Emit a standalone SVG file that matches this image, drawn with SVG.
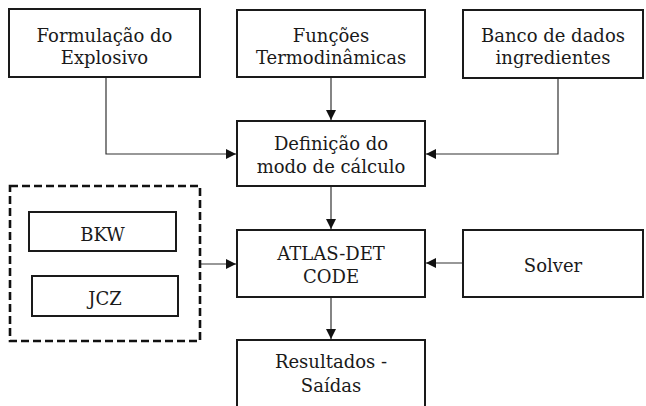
<svg xmlns="http://www.w3.org/2000/svg" width="646" height="406" viewBox="0 0 646 406">
<style>
.box{fill:#fff;stroke:#1a1a1a;stroke-width:2}
.t{font-family:"DejaVu Serif","Liberation Serif",serif;font-size:18px;fill:#1a1a1a;text-anchor:middle}
.c{fill:none;stroke:#333;stroke-width:1.2}
.dash{fill:none;stroke:#111;stroke-width:2.6;stroke-dasharray:8 4}
</style>
<defs>
<marker id="ah" viewBox="0 0 10 10" refX="10" refY="5" markerWidth="10" markerHeight="10" markerUnits="userSpaceOnUse" orient="auto">
<path d="M0,0 L10,5 L0,10 Z" fill="#111"/>
</marker>
</defs>
<rect width="646" height="406" fill="#fff"/>
<g id="connectors">
<path class="c" d="M106,77 V154 H236" marker-end="url(#ah)"/>
<path class="c" d="M331,77 V120" marker-end="url(#ah)"/>
<path class="c" d="M558,78 V154 H426" marker-end="url(#ah)"/>
<path class="c" d="M331,186 V229" marker-end="url(#ah)"/>
<path class="c" d="M200,264 H236" marker-end="url(#ah)"/>
<path class="c" d="M463,263 H426" marker-end="url(#ah)"/>
<path class="c" d="M331,297 V339" marker-end="url(#ah)"/>
</g>
<g id="formulacao">
<rect class="box" x="9" y="9" width="191" height="68"/>
<text class="t" x="104.5" y="42">Formulação do</text>
<text class="t" x="104.5" y="64">Explosivo</text>
</g>
<g id="funcoes">
<rect class="box" x="237" y="10" width="188" height="67"/>
<text class="t" x="331" y="42">Funções</text>
<text class="t" x="331" y="64">Termodinâmicas</text>
</g>
<g id="banco">
<rect class="box" x="463" y="10" width="180" height="68"/>
<text class="t" x="553" y="42">Banco de dados</text>
<text class="t" x="553" y="64">ingredientes</text>
</g>
<g id="definicao">
<rect class="box" x="237" y="121" width="188" height="65"/>
<text class="t" x="331" y="150">Definição do</text>
<text class="t" x="331" y="173">modo de cálculo</text>
</g>
<g id="modelos">
<rect class="dash" x="10" y="186" width="190" height="155"/>
</g>
<g id="bkw">
<rect class="box" x="29" y="212" width="147" height="39"/>
<text class="t" x="102.5" y="241">BKW</text>
</g>
<g id="jcz">
<rect class="box" x="32" y="276" width="146" height="40"/>
<text class="t" x="105" y="305">JCZ</text>
</g>
<g id="atlas">
<rect class="box" x="237" y="230" width="188" height="67"/>
<text class="t" x="331" y="260">ATLAS-DET</text>
<text class="t" x="331" y="283">CODE</text>
</g>
<g id="solver">
<rect class="box" x="463" y="230" width="180" height="67"/>
<text class="t" x="553" y="272">Solver</text>
</g>
<g id="resultados">
<rect class="box" x="237" y="340" width="188" height="72"/>
<text class="t" x="331" y="368">Resultados -</text>
<text class="t" x="331" y="392">Saídas</text>
</g>
</svg>
